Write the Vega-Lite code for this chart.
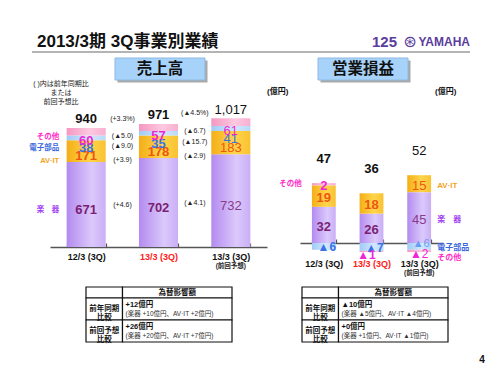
{
  "$schema": "https://vega.github.io/schema/vega-lite/v6.json",
  "width": 500,
  "height": 375,
  "autosize": {"type": "none"},
  "padding": 0,
  "background": "#ffffff",
  "config": {"view": {"stroke": null}, "font": "Liberation Sans, Noto Sans CJK JP"},
  "resolve": {"scale": {"x": "independent", "y": "independent"}, "axis": {"x": "independent", "y": "independent"}},
  "layer": [
    {
      "data": {"values": [{"part": "title", "text": "2013/3期 3Q事業別業績"}]},
      "layer": [
        {
          "mark": {"type": "rule", "stroke": "#b4b4b4", "strokeWidth": 2},
          "encoding": {
            "x": {"datum": "title", "type": "nominal", "scale": {"type": "point", "domain": ["title", "logo"], "range": [32, 470], "padding": 0}, "axis": null},
            "x2": {"datum": "logo"},
            "y": {"datum": "header", "type": "nominal", "bandPosition": 1, "scale": {"type": "band", "domain": ["header"], "range": [31, 52], "paddingInner": 0, "paddingOuter": 0}, "axis": null}
          }
        },
        {
          "mark": {"type": "text", "align": "left", "dx": 5, "fontSize": 17, "fontWeight": "bold", "color": "#111111"},
          "encoding": {
            "x": {"field": "part", "type": "nominal", "scale": {"type": "point", "domain": ["title", "logo"], "range": [32, 470], "padding": 0}, "axis": null},
            "y": {"datum": "header", "type": "nominal", "scale": {"type": "band", "domain": ["header"], "range": [31, 52], "paddingInner": 0, "paddingOuter": 0}, "axis": null},
            "text": {"field": "text"}
          }
        },
        {
          "data": {"values": [{"part": "logo", "text": "YAMAHA"}]},
          "mark": {"type": "text", "align": "right", "fontSize": 12, "fontWeight": "bold", "color": "#5b3d9c"},
          "encoding": {
            "x": {"field": "part", "type": "nominal", "scale": {"type": "point", "domain": ["title", "logo"], "range": [32, 470], "padding": 0}, "axis": null},
            "y": {"datum": "header", "type": "nominal", "scale": {"type": "band", "domain": ["header"], "range": [31, 52], "paddingInner": 0, "paddingOuter": 0}, "axis": null},
            "text": {"field": "text"}
          }
        },
        {
          "data": {"values": [{"part": "logo", "text": "125"}]},
          "mark": {"type": "text", "align": "right", "dx": -73, "fontSize": 15, "fontWeight": "bold", "color": "#5b3d9c"},
          "encoding": {
            "x": {"field": "part", "type": "nominal", "scale": {"type": "point", "domain": ["title", "logo"], "range": [32, 470], "padding": 0}, "axis": null},
            "y": {"datum": "header", "type": "nominal", "scale": {"type": "band", "domain": ["header"], "range": [31, 52], "paddingInner": 0, "paddingOuter": 0}, "axis": null},
            "text": {"field": "text"}
          }
        },
        {
          "data": {"values": [{"part": "logo", "text": "⊛"}]},
          "mark": {"type": "text", "align": "center", "dx": -60, "fontSize": 16, "color": "#5b3d9c", "font": "DejaVu Sans"},
          "encoding": {
            "x": {"field": "part", "type": "nominal", "scale": {"type": "point", "domain": ["title", "logo"], "range": [32, 470], "padding": 0}, "axis": null},
            "y": {"datum": "header", "type": "nominal", "scale": {"type": "band", "domain": ["header"], "range": [31, 52], "paddingInner": 0, "paddingOuter": 0}, "axis": null},
            "text": {"field": "text"}
          }
        }
      ]
    },
    {
      "data": {"values": [{"title": "売上高"}, {"title": "営業損益"}]},
      "mark": {"type": "rect", "fill": "#a9a9a9"},
      "encoding": {
        "x": {"field": "title", "type": "nominal", "scale": {"type": "band", "domain": ["売上高", "営業損益"], "range": [117.5, 410.5], "paddingInner": 0.5567, "paddingOuter": 0}, "axis": null},
        "y": {"datum": "box", "type": "nominal", "scale": {"type": "band", "domain": ["box"], "range": [60.5, 82.5], "paddingInner": 0, "paddingOuter": 0}, "axis": null}
      }
    },
    {
      "data": {"values": [{"title": "売上高"}, {"title": "営業損益"}]},
      "encoding": {
        "x": {"field": "title", "type": "nominal", "scale": {"type": "band", "domain": ["売上高", "営業損益"], "range": [115, 408], "paddingInner": 0.5567, "paddingOuter": 0}, "axis": null},
        "y": {"datum": "box", "type": "nominal", "scale": {"type": "band", "domain": ["box"], "range": [58, 80], "paddingInner": 0, "paddingOuter": 0}, "axis": null}
      },
      "layer": [
        {"mark": {"type": "rect", "fill": "#a7d3fa", "stroke": "#8fb8e0", "strokeWidth": 1}},
        {"mark": {"type": "text", "fontSize": 15.5, "fontWeight": "bold", "color": "#111111"}, "encoding": {"text": {"field": "title"}}},
        {
          "data": {"values": [{"note": "( )内は前年同期比\nまたは\n前回予想比"}]},
          "mark": {"type": "text", "lineBreak": "\n", "lineHeight": 9, "fontSize": 7, "dx": -99, "dy": 15, "color": "#222222"},
          "encoding": {"x": {"datum": "売上高", "type": "nominal"}, "text": {"field": "note"}}
        },
        {
          "data": {"values": [{"unit": "(億円)"}]},
          "mark": {"type": "text", "align": "left", "fontSize": 8, "fontWeight": "bold", "dx": 107, "dy": 23, "color": "#111111"},
          "encoding": {"x": {"datum": "売上高", "type": "nominal"}, "text": {"field": "unit"}}
        },
        {
          "data": {"values": [{"unit": "(億円)"}]},
          "mark": {"type": "text", "align": "left", "fontSize": 8, "fontWeight": "bold", "dx": 72, "dy": 23, "color": "#111111"},
          "encoding": {"x": {"datum": "営業損益", "type": "nominal"}, "text": {"field": "unit"}}
        }
      ]
    },
    {
      "data": {"values": [
        {"period": "12/3 (3Q)", "seg": "楽器", "value": 671},
        {"period": "12/3 (3Q)", "seg": "AV·IT", "value": 171},
        {"period": "12/3 (3Q)", "seg": "電子部品", "value": 38},
        {"period": "12/3 (3Q)", "seg": "その他", "value": 60},
        {"period": "13/3 (3Q)", "seg": "楽器", "value": 702, "change": "(+4.6)"},
        {"period": "13/3 (3Q)", "seg": "AV·IT", "value": 178, "change": "(+3.9)"},
        {"period": "13/3 (3Q)", "seg": "電子部品", "value": 35, "change": "(▲9.0)"},
        {"period": "13/3 (3Q)", "seg": "その他", "value": 57, "change": "(▲5.0)"},
        {"period": "13/3 (3Q) 前回予想", "seg": "楽器", "value": 732, "change": "(▲4.1)"},
        {"period": "13/3 (3Q) 前回予想", "seg": "AV·IT", "value": 183, "change": "(▲2.9)"},
        {"period": "13/3 (3Q) 前回予想", "seg": "電子部品", "value": 41, "change": "(▲15.7)"},
        {"period": "13/3 (3Q) 前回予想", "seg": "その他", "value": 61, "change": "(▲6.7)"}
      ]},
      "transform": [
        {"stack": "value", "groupby": ["period"], "as": ["v0", "v1"]},
        {"calculate": "(datum.v0 + datum.v1) / 2", "as": "mid"},
        {"calculate": "datum.seg === 'その他' ? datum.v0 : (datum.seg === '電子部品' ? datum.v0 - 24 : datum.mid)", "as": "labelY"},
        {"calculate": "datum.seg === 'その他' ? datum.v0 : (datum.seg === '電子部品' ? datum.v0 - 47 : (datum.seg === 'AV·IT' ? datum.mid - 63 : datum.mid + 20))", "as": "annY"},
        {"calculate": "datum.seg === '楽器' ? '楽　器' : datum.seg", "as": "segName"}
      ],
      "encoding": {
        "x": {
          "field": "period", "type": "nominal",
          "scale": {"type": "band", "domain": ["12/3 (3Q)", "13/3 (3Q)", "13/3 (3Q) 前回予想"], "range": [50, 267], "paddingInner": 0.46, "paddingOuter": 0.23},
          "axis": {"orient": "bottom", "offset": -128, "title": null, "grid": false, "domainColor": "#555555", "domainWidth": 1.5, "tickBand": "extent", "tickSize": -4, "tickColor": "#555555", "tickWidth": 1.2, "labelAngle": 0, "labelFontSize": 9, "labelFontWeight": "bold", "labelPadding": 9, "labelExpr": "isValid(datum.value) ? replace(datum.value, ' 前回予想', '') : ''", "labelColor": {"condition": {"test": "datum.value === '13/3 (3Q)'", "value": "#ff1a1a"}, "value": "#111111"}}
        }
      },
      "layer": [
        {
          "mark": {"type": "bar"},
          "encoding": {
            "y": {"field": "v1", "type": "quantitative", "scale": {"domain": [0, 1500], "range": [247, 57], "nice": false, "zero": false}, "axis": null},
            "y2": {"field": "v0"},
            "fill": {"condition": [
              {"test": "datum.seg === '楽器'", "value": {"x1": 0, "y1": 0, "x2": 1, "y2": 0, "gradient": "linear", "stops": [{"offset": 0, "color": "#b38bf0"}, {"offset": 0.65, "color": "#dbc9fb"}, {"offset": 1, "color": "#caaef6"}]}},
              {"test": "datum.seg === 'AV·IT'", "value": {"x1": 0, "y1": 0, "x2": 1, "y2": 0, "gradient": "linear", "stops": [{"offset": 0, "color": "#f4ae18"}, {"offset": 0.6, "color": "#ffd54a"}, {"offset": 1, "color": "#f9c232"}]}},
              {"test": "datum.seg === '電子部品'", "value": {"x1": 0, "y1": 0, "x2": 1, "y2": 0, "gradient": "linear", "stops": [{"offset": 0, "color": "#9fcbf5"}, {"offset": 0.6, "color": "#d2e8fd"}, {"offset": 1, "color": "#b7d9f9"}]}}
            ], "value": {"x1": 0, "y1": 0, "x2": 1, "y2": 0, "gradient": "linear", "stops": [{"offset": 0, "color": "#f597c1"}, {"offset": 0.6, "color": "#fcc9e0"}, {"offset": 1, "color": "#f8afd0"}]}}
          }
        },
        {
          "transform": [{"filter": "datum.period !== '13/3 (3Q) 前回予想'"}],
          "mark": {"type": "text", "fontSize": 13, "fontWeight": "bold", "dy": 5},
          "encoding": {
            "y": {"field": "labelY", "type": "quantitative", "scale": {"domain": [0, 1500], "range": [247, 57], "nice": false, "zero": false}, "axis": null},
            "text": {"field": "value", "type": "quantitative"},
            "color": {"condition": [{"test": "datum.seg === '楽器'", "value": "#7b1f74"}, {"test": "datum.seg === 'AV·IT'", "value": "#ee5512"}, {"test": "datum.seg === '電子部品'", "value": "#3a72e6"}], "value": "#f026d6"}
          }
        },
        {
          "transform": [{"filter": "datum.period === '13/3 (3Q) 前回予想'"}],
          "mark": {"type": "text", "fontSize": 13, "dy": 5},
          "encoding": {
            "y": {"field": "labelY", "type": "quantitative", "scale": {"domain": [0, 1500], "range": [247, 57], "nice": false, "zero": false}, "axis": null},
            "text": {"field": "value", "type": "quantitative"},
            "color": {"condition": [{"test": "datum.seg === '楽器'", "value": "#8a3a8a"}, {"test": "datum.seg === 'AV·IT'", "value": "#ee5512"}, {"test": "datum.seg === '電子部品'", "value": "#3a72e6"}], "value": "#f026d6"}
          }
        },
        {
          "transform": [{"filter": "isValid(datum.change)"}],
          "mark": {"type": "text", "fontSize": 7, "dx": -36, "dy": 5, "color": "#222222"},
          "encoding": {
            "y": {"field": "annY", "type": "quantitative", "scale": {"domain": [0, 1500], "range": [247, 57], "nice": false, "zero": false}, "axis": null},
            "text": {"field": "change"}
          }
        },
        {
          "transform": [{"filter": "datum.period === '12/3 (3Q)' && (datum.seg === 'その他' || datum.seg === '楽器')"}],
          "mark": {"type": "text", "align": "right", "dx": -27, "dy": 5, "fontSize": 7.5, "fontWeight": "bold"},
          "encoding": {
            "y": {"field": "mid", "type": "quantitative", "scale": {"domain": [0, 1500], "range": [247, 57], "nice": false, "zero": false}, "axis": null},
            "text": {"field": "segName"},
            "color": {"condition": [{"test": "datum.seg === '楽器'", "value": "#a23ff2"}, {"test": "datum.seg === 'AV·IT'", "value": "#f3a41e"}, {"test": "datum.seg === '電子部品'", "value": "#3a66dd"}], "value": "#ff30c8"}
          }
        },
        {
          "transform": [{"filter": "datum.period === '12/3 (3Q)' && (datum.seg === '電子部品' || datum.seg === 'AV·IT')"}],
          "mark": {"type": "text", "align": "right", "dx": -27, "dy": 10, "fontSize": 7.5, "fontWeight": "bold"},
          "encoding": {
            "y": {"field": "mid", "type": "quantitative", "scale": {"domain": [0, 1500], "range": [247, 57], "nice": false, "zero": false}, "axis": null},
            "text": {"field": "segName"},
            "color": {"condition": [{"test": "datum.seg === '楽器'", "value": "#a23ff2"}, {"test": "datum.seg === 'AV·IT'", "value": "#f3a41e"}, {"test": "datum.seg === '電子部品'", "value": "#3a66dd"}], "value": "#ff30c8"}
          }
        },
        {
          "data": {"values": [
            {"period": "12/3 (3Q)", "total": 940},
            {"period": "13/3 (3Q)", "total": 971, "change": "(+3.3%)"},
            {"period": "13/3 (3Q) 前回予想", "total": 1017, "change": "(▲4.5%)"}
          ]},
          "layer": [
            {
              "transform": [{"filter": "datum.period !== '13/3 (3Q) 前回予想'"}],
              "mark": {"type": "text", "fontSize": 13, "fontWeight": "bold", "dy": -9, "color": "#111111"},
              "encoding": {
                "y": {"field": "total", "type": "quantitative", "scale": {"domain": [0, 1500], "range": [247, 57], "nice": false, "zero": false}, "axis": null},
                "text": {"field": "total", "type": "quantitative", "format": ","}
              }
            },
            {
              "transform": [{"filter": "datum.period === '13/3 (3Q) 前回予想'"}],
              "mark": {"type": "text", "fontSize": 13, "dy": -8, "color": "#111111"},
              "encoding": {
                "y": {"field": "total", "type": "quantitative", "scale": {"domain": [0, 1500], "range": [247, 57], "nice": false, "zero": false}, "axis": null},
                "text": {"field": "total", "type": "quantitative", "format": ","}
              }
            },
            {
              "transform": [{"filter": "isValid(datum.change)"}],
              "mark": {"type": "text", "fontSize": 7, "dx": -36, "dy": -5, "color": "#222222"},
              "encoding": {
                "y": {"field": "total", "type": "quantitative", "scale": {"domain": [0, 1500], "range": [247, 57], "nice": false, "zero": false}, "axis": null},
                "text": {"field": "change"}
              }
            }
          ]
        },
        {
          "data": {"values": [{"period": "13/3 (3Q) 前回予想", "note": "(前回予想)"}]},
          "mark": {"type": "text", "fontSize": 6.5, "fontWeight": "bold", "dy": 19, "color": "#222222"},
          "encoding": {
            "y": {"datum": 0, "type": "quantitative", "scale": {"domain": [0, 1500], "range": [247, 57], "nice": false, "zero": false}, "axis": null},
            "text": {"field": "note"}
          }
        }
      ]
    },
    {
      "data": {"values": [
        {"period": "12/3 (3Q)", "seg": "楽器", "value": 32},
        {"period": "12/3 (3Q)", "seg": "AV·IT", "value": 19},
        {"period": "12/3 (3Q)", "seg": "電子部品", "value": -6},
        {"period": "12/3 (3Q)", "seg": "その他", "value": 2},
        {"period": "13/3 (3Q)", "seg": "楽器", "value": 26},
        {"period": "13/3 (3Q)", "seg": "AV·IT", "value": 18},
        {"period": "13/3 (3Q)", "seg": "電子部品", "value": -7},
        {"period": "13/3 (3Q)", "seg": "その他", "value": -1},
        {"period": "13/3 (3Q) 前回予想", "seg": "楽器", "value": 45},
        {"period": "13/3 (3Q) 前回予想", "seg": "AV·IT", "value": 15},
        {"period": "13/3 (3Q) 前回予想", "seg": "電子部品", "value": -6},
        {"period": "13/3 (3Q) 前回予想", "seg": "その他", "value": -2}
      ]},
      "transform": [
        {"stack": "value", "groupby": ["period"], "as": ["v0", "v1"]},
        {"calculate": "(datum.v0 + datum.v1) / 2", "as": "mid"},
        {"calculate": "datum.value < 0 ? '▲' + abs(datum.value) : '' + datum.value", "as": "label"},
        {"calculate": "datum.seg === '楽器' ? '楽　器' : datum.seg", "as": "segName"}
      ],
      "encoding": {
        "x": {
          "field": "period", "type": "nominal",
          "scale": {"type": "band", "domain": ["12/3 (3Q)", "13/3 (3Q)", "13/3 (3Q) 前回予想"], "range": [300, 443], "paddingInner": 0.5, "paddingOuter": 0.25},
          "axis": {"orient": "bottom", "offset": -132, "title": null, "grid": false, "domainColor": "#555555", "domainWidth": 1.5, "tickBand": "extent", "tickSize": -4, "tickColor": "#555555", "tickWidth": 1.2, "labelAngle": 0, "labelFontSize": 9, "labelFontWeight": "bold", "labelPadding": 20, "labelExpr": "isValid(datum.value) ? replace(datum.value, ' 前回予想', '') : ''", "labelColor": {"condition": {"test": "datum.value === '13/3 (3Q)'", "value": "#ff1a1a"}, "value": "#111111"}}
        }
      },
      "layer": [
        {
          "mark": {"type": "bar"},
          "encoding": {
            "y": {"field": "v1", "type": "quantitative", "scale": {"domain": [-20, 100], "range": [265.6, 130], "nice": false, "zero": false}, "axis": null},
            "y2": {"field": "v0"},
            "fill": {"condition": [
              {"test": "datum.seg === '楽器'", "value": {"x1": 0, "y1": 0, "x2": 1, "y2": 0, "gradient": "linear", "stops": [{"offset": 0, "color": "#b38bf0"}, {"offset": 0.65, "color": "#dbc9fb"}, {"offset": 1, "color": "#caaef6"}]}},
              {"test": "datum.seg === 'AV·IT'", "value": {"x1": 0, "y1": 0, "x2": 1, "y2": 0, "gradient": "linear", "stops": [{"offset": 0, "color": "#f4ae18"}, {"offset": 0.6, "color": "#ffd54a"}, {"offset": 1, "color": "#f9c232"}]}},
              {"test": "datum.seg === '電子部品'", "value": {"x1": 0, "y1": 0, "x2": 1, "y2": 0, "gradient": "linear", "stops": [{"offset": 0, "color": "#9fcbf5"}, {"offset": 0.6, "color": "#d2e8fd"}, {"offset": 1, "color": "#b7d9f9"}]}}
            ], "value": {"x1": 0, "y1": 0, "x2": 1, "y2": 0, "gradient": "linear", "stops": [{"offset": 0, "color": "#f597c1"}, {"offset": 0.6, "color": "#fcc9e0"}, {"offset": 1, "color": "#f8afd0"}]}}
          }
        },
        {
          "transform": [{"filter": "datum.period !== '13/3 (3Q) 前回予想' && datum.value > 0"}],
          "mark": {"type": "text", "fontSize": 13, "fontWeight": "bold", "dy": 2},
          "encoding": {
            "y": {"field": "mid", "type": "quantitative", "scale": {"domain": [-20, 100], "range": [265.6, 130], "nice": false, "zero": false}, "axis": null},
            "text": {"field": "label"},
            "color": {"condition": [{"test": "datum.seg === '楽器'", "value": "#7b1f74"}, {"test": "datum.seg === 'AV·IT'", "value": "#ee5512"}, {"test": "datum.seg === '電子部品'", "value": "#3a72e6"}], "value": "#f026d6"}
          }
        },
        {
          "transform": [{"filter": "datum.period !== '13/3 (3Q) 前回予想' && datum.seg === '電子部品'"}],
          "mark": {"type": "text", "fontSize": 12, "fontWeight": "bold", "dx": 3, "dy": 1, "color": "#3a72e6"},
          "encoding": {
            "y": {"field": "mid", "type": "quantitative", "scale": {"domain": [-20, 100], "range": [265.6, 130], "nice": false, "zero": false}, "axis": null},
            "text": {"field": "label"}
          }
        },
        {
          "transform": [{"filter": "datum.period !== '13/3 (3Q) 前回予想' && datum.seg === 'その他' && datum.value < 0"}],
          "mark": {"type": "text", "fontSize": 12, "fontWeight": "bold", "dx": -5, "dy": 4, "color": "#f026d6"},
          "encoding": {
            "y": {"field": "mid", "type": "quantitative", "scale": {"domain": [-20, 100], "range": [265.6, 130], "nice": false, "zero": false}, "axis": null},
            "text": {"field": "label"}
          }
        },
        {
          "transform": [{"filter": "datum.period === '13/3 (3Q) 前回予想' && datum.value > 0"}],
          "mark": {"type": "text", "fontSize": 13, "dy": 2},
          "encoding": {
            "y": {"field": "mid", "type": "quantitative", "scale": {"domain": [-20, 100], "range": [265.6, 130], "nice": false, "zero": false}, "axis": null},
            "text": {"field": "label"},
            "color": {"condition": [{"test": "datum.seg === '楽器'", "value": "#8a3a8a"}, {"test": "datum.seg === 'AV·IT'", "value": "#ee5512"}], "value": "#3a72e6"}
          }
        },
        {
          "transform": [{"filter": "datum.period === '13/3 (3Q) 前回予想' && datum.seg === '電子部品'"}],
          "mark": {"type": "text", "fontSize": 11, "dx": 2, "dy": -2, "color": "#6a9ef2"},
          "encoding": {
            "y": {"field": "mid", "type": "quantitative", "scale": {"domain": [-20, 100], "range": [265.6, 130], "nice": false, "zero": false}, "axis": null},
            "text": {"field": "label"}
          }
        },
        {
          "transform": [{"filter": "datum.period === '13/3 (3Q) 前回予想' && datum.seg === 'その他'"}],
          "mark": {"type": "text", "fontSize": 12, "dy": 3, "color": "#f026d6"},
          "encoding": {
            "y": {"field": "mid", "type": "quantitative", "scale": {"domain": [-20, 100], "range": [265.6, 130], "nice": false, "zero": false}, "axis": null},
            "text": {"field": "label"}
          }
        },
        {
          "transform": [{"filter": "datum.period === '13/3 (3Q) 前回予想' && datum.seg !== 'その他'"}],
          "mark": {"type": "text", "align": "left", "dx": 18, "dy": 2, "fontSize": 8, "fontWeight": "bold"},
          "encoding": {
            "y": {"field": "mid", "type": "quantitative", "scale": {"domain": [-20, 100], "range": [265.6, 130], "nice": false, "zero": false}, "axis": null},
            "text": {"field": "segName"},
            "color": {"condition": [{"test": "datum.seg === '楽器'", "value": "#a23ff2"}, {"test": "datum.seg === 'AV·IT'", "value": "#f3a41e"}], "value": "#3a66dd"}
          }
        },
        {
          "transform": [{"filter": "datum.period === '13/3 (3Q) 前回予想' && datum.seg === 'その他'"}],
          "mark": {"type": "text", "align": "left", "dx": 18, "dy": 7, "fontSize": 8, "fontWeight": "bold", "color": "#ff30c8"},
          "encoding": {
            "y": {"field": "mid", "type": "quantitative", "scale": {"domain": [-20, 100], "range": [265.6, 130], "nice": false, "zero": false}, "axis": null},
            "text": {"field": "segName"}
          }
        },
        {
          "transform": [{"filter": "datum.period === '12/3 (3Q)' && datum.seg === 'その他'"}],
          "mark": {"type": "text", "align": "right", "dx": -22, "dy": 0, "fontSize": 7.5, "fontWeight": "bold", "color": "#ff30c8"},
          "encoding": {
            "y": {"field": "mid", "type": "quantitative", "scale": {"domain": [-20, 100], "range": [265.6, 130], "nice": false, "zero": false}, "axis": null},
            "text": {"field": "seg"}
          }
        },
        {
          "transform": [
            {"aggregate": [{"op": "sum", "field": "value", "as": "total"}, {"op": "max", "field": "v1", "as": "top"}], "groupby": ["period"]},
            {"filter": "datum.period !== '13/3 (3Q) 前回予想'"}
          ],
          "mark": {"type": "text", "fontSize": 13, "fontWeight": "bold", "dy": -24, "color": "#111111"},
          "encoding": {
            "y": {"field": "top", "type": "quantitative", "scale": {"domain": [-20, 100], "range": [265.6, 130], "nice": false, "zero": false}, "axis": null},
            "text": {"field": "total", "type": "quantitative"}
          }
        },
        {
          "transform": [
            {"aggregate": [{"op": "sum", "field": "value", "as": "total"}, {"op": "max", "field": "v1", "as": "top"}], "groupby": ["period"]},
            {"filter": "datum.period === '13/3 (3Q) 前回予想'"}
          ],
          "mark": {"type": "text", "fontSize": 13, "dy": -24, "color": "#111111"},
          "encoding": {
            "y": {"field": "top", "type": "quantitative", "scale": {"domain": [-20, 100], "range": [265.6, 130], "nice": false, "zero": false}, "axis": null},
            "text": {"field": "total", "type": "quantitative"}
          }
        },
        {
          "data": {"values": [{"period": "13/3 (3Q) 前回予想", "note": "(前回予想)"}]},
          "mark": {"type": "text", "fontSize": 6.5, "fontWeight": "bold", "dy": 30, "color": "#222222"},
          "encoding": {
            "y": {"datum": 0, "type": "quantitative", "scale": {"domain": [-20, 100], "range": [265.6, 130], "nice": false, "zero": false}, "axis": null},
            "text": {"field": "note"}
          }
        }
      ]
    },
    {
      "data": {"values": [{"header": "為替影響額"}]},
      "encoding": {
        "y": {"field": "header", "type": "nominal", "scale": {"type": "band", "domain": ["為替影響額"], "range": [287, 298], "paddingInner": 0, "paddingOuter": 0}, "axis": null}
      },
      "layer": [
        {"mark": {"type": "rect", "fill": "#ffffff", "stroke": "#111111", "strokeWidth": 1.2}, "encoding": {"x": {"datum": "label", "type": "nominal", "scale": {"type": "band", "domain": ["label", "c1", "c2", "c3"], "range": [86, 232], "paddingInner": 0, "paddingOuter": 0}, "axis": null}}},
        {"mark": {"type": "rect", "fill": "#ffffff", "stroke": "#111111", "strokeWidth": 1.2}, "encoding": {"x": {"datum": "c1", "type": "nominal", "bandPosition": 0, "scale": {"type": "band", "domain": ["label", "c1", "c2", "c3"], "range": [86, 232], "paddingInner": 0, "paddingOuter": 0}, "axis": null}, "x2": {"datum": "c3", "bandPosition": 1}}},
        {"mark": {"type": "text", "fontSize": 7.5, "fontWeight": "bold", "color": "#111111"}, "encoding": {"x": {"datum": "c2", "type": "nominal", "scale": {"type": "band", "domain": ["label", "c1", "c2", "c3"], "range": [86, 232], "paddingInner": 0, "paddingOuter": 0}, "axis": null}, "text": {"field": "header"}}}
      ]
    },
    {
      "data": {"values": [
        {"比較": "前年同期比較", "label": "前年同期\n比較", "amount": "+12億円", "detail": "(楽器 +10億円、AV·IT +2億円)"},
        {"比較": "前回予想比較", "label": "前回予想\n比較", "amount": "+26億円", "detail": "(楽器 +20億円、AV·IT +7億円)"}
      ]},
      "encoding": {
        "y": {"field": "比較", "type": "nominal", "scale": {"type": "band", "domain": ["前年同期比較", "前回予想比較"], "range": [298, 342], "paddingInner": 0, "paddingOuter": 0}, "axis": null}
      },
      "layer": [
        {"mark": {"type": "rect", "fill": "#ffffff", "stroke": "#111111", "strokeWidth": 1.2}, "encoding": {"x": {"datum": "label", "type": "nominal", "scale": {"type": "band", "domain": ["label", "c1", "c2", "c3"], "range": [86, 232], "paddingInner": 0, "paddingOuter": 0}, "axis": null}}},
        {"mark": {"type": "rect", "fill": "#ffffff", "stroke": "#111111", "strokeWidth": 1.2}, "encoding": {"x": {"datum": "c1", "type": "nominal", "bandPosition": 0, "scale": {"type": "band", "domain": ["label", "c1", "c2", "c3"], "range": [86, 232], "paddingInner": 0, "paddingOuter": 0}, "axis": null}, "x2": {"datum": "c3", "bandPosition": 1}}},
        {"mark": {"type": "text", "fontSize": 7.5, "fontWeight": "bold", "lineBreak": "\n", "lineHeight": 9, "color": "#111111"}, "encoding": {"x": {"datum": "label", "type": "nominal", "scale": {"type": "band", "domain": ["label", "c1", "c2", "c3"], "range": [86, 232], "paddingInner": 0, "paddingOuter": 0}, "axis": null}, "text": {"field": "label"}}},
        {"mark": {"type": "text", "align": "left", "dx": 3, "dy": -4.5, "fontSize": 7.5, "fontWeight": "bold", "color": "#111111"}, "encoding": {"x": {"datum": "c1", "type": "nominal", "bandPosition": 0, "scale": {"type": "band", "domain": ["label", "c1", "c2", "c3"], "range": [86, 232], "paddingInner": 0, "paddingOuter": 0}, "axis": null}, "text": {"field": "amount"}}},
        {"mark": {"type": "text", "align": "left", "dx": 3, "dy": 5, "fontSize": 6.5, "color": "#333333"}, "encoding": {"x": {"datum": "c1", "type": "nominal", "bandPosition": 0, "scale": {"type": "band", "domain": ["label", "c1", "c2", "c3"], "range": [86, 232], "paddingInner": 0, "paddingOuter": 0}, "axis": null}, "text": {"field": "detail"}}}
      ]
    },
    {
      "data": {"values": [{"header": "為替影響額"}]},
      "encoding": {
        "y": {"field": "header", "type": "nominal", "scale": {"type": "band", "domain": ["為替影響額"], "range": [287, 298], "paddingInner": 0, "paddingOuter": 0}, "axis": null}
      },
      "layer": [
        {"mark": {"type": "rect", "fill": "#ffffff", "stroke": "#111111", "strokeWidth": 1.2}, "encoding": {"x": {"datum": "label", "type": "nominal", "scale": {"type": "band", "domain": ["label", "c1", "c2", "c3"], "range": [302, 448], "paddingInner": 0, "paddingOuter": 0}, "axis": null}}},
        {"mark": {"type": "rect", "fill": "#ffffff", "stroke": "#111111", "strokeWidth": 1.2}, "encoding": {"x": {"datum": "c1", "type": "nominal", "bandPosition": 0, "scale": {"type": "band", "domain": ["label", "c1", "c2", "c3"], "range": [302, 448], "paddingInner": 0, "paddingOuter": 0}, "axis": null}, "x2": {"datum": "c3", "bandPosition": 1}}},
        {"mark": {"type": "text", "fontSize": 7.5, "fontWeight": "bold", "color": "#111111"}, "encoding": {"x": {"datum": "c2", "type": "nominal", "scale": {"type": "band", "domain": ["label", "c1", "c2", "c3"], "range": [302, 448], "paddingInner": 0, "paddingOuter": 0}, "axis": null}, "text": {"field": "header"}}}
      ]
    },
    {
      "data": {"values": [
        {"比較": "前年同期比較", "label": "前年同期\n比較", "amount": "▲10億円", "detail": "(楽器 ▲5億円、AV·IT ▲4億円)"},
        {"比較": "前回予想比較", "label": "前回予想\n比較", "amount": "+0億円", "detail": "(楽器 +1億円、AV·IT ▲1億円)"}
      ]},
      "encoding": {
        "y": {"field": "比較", "type": "nominal", "scale": {"type": "band", "domain": ["前年同期比較", "前回予想比較"], "range": [298, 342], "paddingInner": 0, "paddingOuter": 0}, "axis": null}
      },
      "layer": [
        {"mark": {"type": "rect", "fill": "#ffffff", "stroke": "#111111", "strokeWidth": 1.2}, "encoding": {"x": {"datum": "label", "type": "nominal", "scale": {"type": "band", "domain": ["label", "c1", "c2", "c3"], "range": [302, 448], "paddingInner": 0, "paddingOuter": 0}, "axis": null}}},
        {"mark": {"type": "rect", "fill": "#ffffff", "stroke": "#111111", "strokeWidth": 1.2}, "encoding": {"x": {"datum": "c1", "type": "nominal", "bandPosition": 0, "scale": {"type": "band", "domain": ["label", "c1", "c2", "c3"], "range": [302, 448], "paddingInner": 0, "paddingOuter": 0}, "axis": null}, "x2": {"datum": "c3", "bandPosition": 1}}},
        {"mark": {"type": "text", "fontSize": 7.5, "fontWeight": "bold", "lineBreak": "\n", "lineHeight": 9, "color": "#111111"}, "encoding": {"x": {"datum": "label", "type": "nominal", "scale": {"type": "band", "domain": ["label", "c1", "c2", "c3"], "range": [302, 448], "paddingInner": 0, "paddingOuter": 0}, "axis": null}, "text": {"field": "label"}}},
        {"mark": {"type": "text", "align": "left", "dx": 3, "dy": -4.5, "fontSize": 7.5, "fontWeight": "bold", "color": "#111111"}, "encoding": {"x": {"datum": "c1", "type": "nominal", "bandPosition": 0, "scale": {"type": "band", "domain": ["label", "c1", "c2", "c3"], "range": [302, 448], "paddingInner": 0, "paddingOuter": 0}, "axis": null}, "text": {"field": "amount"}}},
        {"mark": {"type": "text", "align": "left", "dx": 3, "dy": 5, "fontSize": 6.5, "color": "#333333"}, "encoding": {"x": {"datum": "c1", "type": "nominal", "bandPosition": 0, "scale": {"type": "band", "domain": ["label", "c1", "c2", "c3"], "range": [302, 448], "paddingInner": 0, "paddingOuter": 0}, "axis": null}, "text": {"field": "detail"}}},
        {
          "data": {"values": [{"page": "4"}]},
          "mark": {"type": "text", "fontSize": 10, "fontWeight": "bold", "dx": 34, "dy": 29, "color": "#111111"},
          "encoding": {
            "x": {"datum": "c3", "type": "nominal", "bandPosition": 1, "scale": {"type": "band", "domain": ["label", "c1", "c2", "c3"], "range": [302, 448], "paddingInner": 0, "paddingOuter": 0}, "axis": null},
            "y": {"datum": "前回予想比較", "type": "nominal", "scale": {"type": "band", "domain": ["前年同期比較", "前回予想比較"], "range": [298, 342], "paddingInner": 0, "paddingOuter": 0}, "axis": null},
            "text": {"field": "page"}
          }
        }
      ]
    }
  ]
}
